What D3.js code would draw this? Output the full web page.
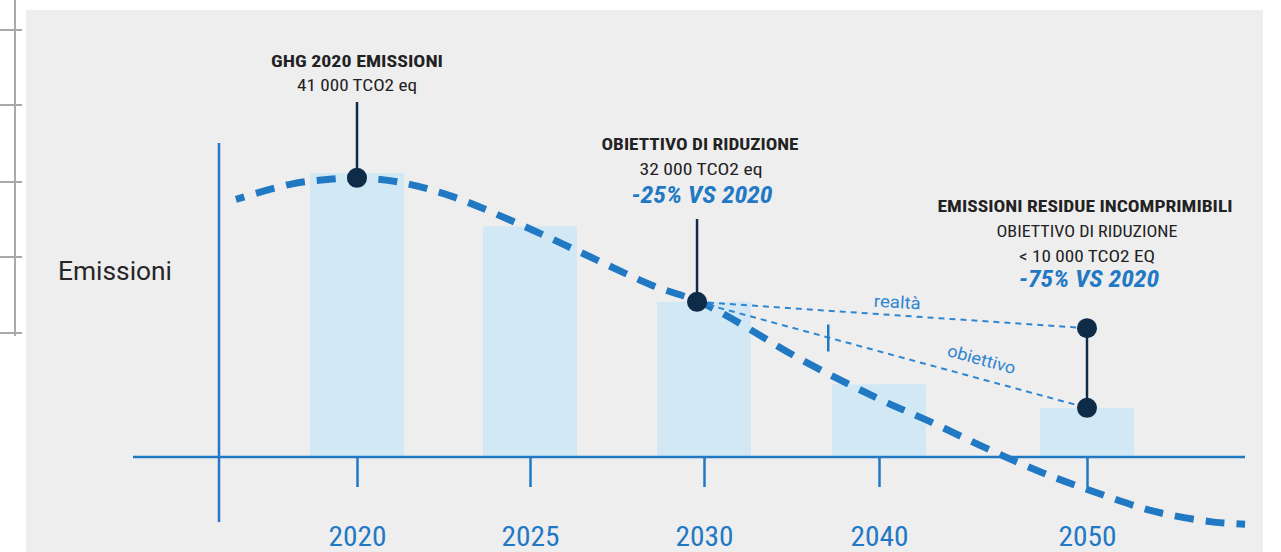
<!DOCTYPE html>
<html>
<head>
<meta charset="utf-8">
<script src="https://cdn.jsdelivr.net/npm/d3@7"></script>
<style>
  body { margin: 0; background: #fff; }
  svg { display: block; }
  text { font-family: 'Liberation Sans Narrow', 'Roboto Condensed', 'DejaVu Sans Condensed', sans-serif; }
</style>
</head>
<body>
<div id="chart"></div>
<script>

// bars (tCO2 eq)
const years = [2020, 2025, 2030, 2040, 2050]
const tickLabels = ['2020', '2025', '2030', '2040', '2050']
const barValues = [41000, 33300, 22400, 10500, 7100]

// dashed trajectory
const curveYears = [2016.5, 2018.1, 2019.2, 2020, 2021.2, 2022.7, 2024.7, 2026.6, 2028.5, 2030, 2035.6, 2039.9, 2042.6, 2045.2, 2047.8, 2050.5, 2053.3, 2056.1, 2057.6]
const curveValues = [37200, 39400, 40100, 40300, 39700, 37700, 33600, 29200, 24800, 22100, 14000, 8500, 4900, 1200, -2200, -5200, -7900, -9400, -9700]

// annotated points
const peakPoint = {year: 2020, value: 40300}
const targetPoint = {year: 2029.8, value: 22400}
const realtaEnd = {year: 2050, value: 18600}
const obiettivoEnd = {year: 2050, value: 7100}
const markYear = 2037.1

const width = 1281, height = 552
const blue = '#2179c4', navy = '#0e2c47', barFill = '#d3e8f5'

let svg = d3.select('#chart').append('svg')
    .attr('width', width)
    .attr('height', height)

svg.append('rect')
    .attr('x', 26).attr('y', 10)
    .attr('width', 1237).attr('height', height - 10)
    .attr('fill', '#efeeef')

// leftover grid on the left edge
svg.append('line')
    .attr('x1', 15).attr('x2', 15).attr('y1', 0).attr('y2', 336)
    .attr('stroke', '#a9a9a9').attr('stroke-width', 2)
svg.selectAll('.gridtick')
    .data([30, 105, 182, 257, 333])
    .enter().append('line')
    .attr('x1', 0).attr('x2', 22)
    .attr('y1', d => d).attr('y2', d => d)
    .attr('stroke', '#a9a9a9').attr('stroke-width', 2)

let xScale = d3.scaleLinear().domain(years).range([357, 530, 704, 879, 1087])
let yScale = d3.scaleLinear().domain([0, 41000]).range([457, 173])

let barWidth = 94

svg.selectAll('.bar')
    .data(years)
    .enter().append('rect')
    .attr('class', 'bar')
    .attr('x', d => xScale(d) - barWidth / 2)
    .attr('y', (d, i) => yScale(barValues[i]))
    .attr('width', barWidth)
    .attr('height', (d, i) => yScale(0) - yScale(barValues[i]))
    .attr('fill', barFill)

// axes
let xAxis = svg.append('g')
    .attr('transform', 'translate(0,' + yScale(0) + ')')
    .call(d3.axisBottom(xScale).tickValues(years).tickSize(30).tickPadding(39)
        .tickFormat((d, i) => tickLabels[i]))
xAxis.select('.domain').remove()
xAxis.selectAll('line').attr('stroke', blue).attr('stroke-width', 2.5)
xAxis.selectAll('text')
    .attr('fill', blue)
    .attr('font-size', 28)
    .attr('textLength', 58)
    .attr('lengthAdjust', 'spacingAndGlyphs')
    .style('font-family', "'Liberation Sans Narrow', 'Roboto Condensed', sans-serif")

svg.append('line')
    .attr('x1', 133).attr('x2', 1245)
    .attr('y1', yScale(0)).attr('y2', yScale(0))
    .attr('stroke', blue).attr('stroke-width', 2.5)

svg.append('line')
    .attr('x1', 219).attr('x2', 219)
    .attr('y1', 143).attr('y2', 522)
    .attr('stroke', blue).attr('stroke-width', 2.5)

svg.append('text')
    .attr('x', 58).attr('y', 280)
    .attr('font-size', 25)
    .attr('fill', '#262626')
    .attr('textLength', 114)
    .attr('lengthAdjust', 'spacingAndGlyphs')
    .style('font-family', "'Roboto', 'Liberation Sans', sans-serif")
    .text('Emissioni')

// trajectory
let curveData = curveYears.map((y, i) => ({year: y, value: curveValues[i]}))

svg.append('path')
    .datum(curveData)
    .attr('fill', 'none')
    .attr('stroke', blue)
    .attr('stroke-width', 7)
    .attr('stroke-dasharray', '19,12')
    .attr('stroke-dashoffset', 10)
    .attr('d', d3.line()
        .curve(d3.curveCatmullRom)
        .x(d => xScale(d.year))
        .y(d => yScale(d.value)))

// thin dashed scenario lines
function thinLine(a, b){
    svg.append('line')
        .attr('x1', xScale(a.year)).attr('y1', yScale(a.value))
        .attr('x2', xScale(b.year)).attr('y2', yScale(b.value))
        .attr('stroke', '#2f86d0')
        .attr('stroke-width', 2)
        .attr('stroke-dasharray', '6,5')
}
thinLine(targetPoint, realtaEnd)
thinLine(targetPoint, obiettivoEnd)

let slope = (yScale(obiettivoEnd.value) - yScale(targetPoint.value)) / (xScale(obiettivoEnd.year) - xScale(targetPoint.year))
let markY = yScale(targetPoint.value) + slope * (xScale(markYear) - xScale(targetPoint.year))
svg.append('line')
    .attr('x1', xScale(markYear)).attr('x2', xScale(markYear))
    .attr('y1', markY - 13).attr('y2', markY + 14)
    .attr('stroke', blue).attr('stroke-width', 2.5)

svg.append('text')
    .attr('x', 897).attr('y', 308)
    .attr('text-anchor', 'middle')
    .attr('font-size', 17)
    .attr('fill', '#2f86d0')
    .attr('textLength', 47)
    .attr('lengthAdjust', 'spacingAndGlyphs')
    .attr('transform', 'rotate(3 897 308)')
    .style('font-family', "'Roboto', 'Liberation Sans', sans-serif")
    .text('realtà')

let ang = Math.atan(slope) * 180 / Math.PI
svg.append('text')
    .attr('x', 980).attr('y', 365)
    .attr('text-anchor', 'middle')
    .attr('font-size', 17)
    .attr('fill', '#2f86d0')
    .attr('textLength', 70)
    .attr('lengthAdjust', 'spacingAndGlyphs')
    .attr('transform', 'rotate(' + ang + ' 980 365)')
    .style('font-family', "'Roboto', 'Liberation Sans', sans-serif")
    .text('obiettivo')

// stems and dots
function stem(p, top){
    svg.append('line')
        .attr('x1', xScale(p.year)).attr('x2', xScale(p.year))
        .attr('y1', top).attr('y2', yScale(p.value))
        .attr('stroke', navy).attr('stroke-width', 2.5)
}
stem(peakPoint, 102)
stem(targetPoint, 219)

svg.append('line')
    .attr('x1', xScale(realtaEnd.year)).attr('x2', xScale(realtaEnd.year))
    .attr('y1', yScale(realtaEnd.value)).attr('y2', yScale(obiettivoEnd.value))
    .attr('stroke', navy).attr('stroke-width', 2.5)

svg.selectAll('.dot')
    .data([peakPoint, targetPoint, realtaEnd, obiettivoEnd])
    .enter().append('circle')
    .attr('cx', d => xScale(d.year))
    .attr('cy', d => yScale(d.value))
    .attr('r', 10)
    .attr('fill', navy)

// annotation text blocks
function label(x, y, txt, size, weight, color, len, italic){
    svg.append('text')
        .attr('x', x).attr('y', y)
        .attr('text-anchor', 'middle')
        .attr('font-size', size)
        .attr('font-weight', weight)
        .attr('font-style', italic ? 'italic' : 'normal')
        .attr('fill', color)
        .attr('textLength', len)
        .attr('lengthAdjust', 'spacingAndGlyphs')
        .text(txt)
}

label(357, 67, 'GHG 2020 EMISSIONI', 17, 'bold', '#222', 172)
label(357, 91, '41 000 TCO2 eq', 17, 'normal', '#222', 120)

label(700, 150, 'OBIETTIVO DI RIDUZIONE', 17, 'bold', '#222', 197)
label(701, 175, '32 000 TCO2 eq', 17, 'normal', '#222', 123)
label(702, 203, '-25% VS 2020', 23, 'bold', blue, 141, true)

label(1085, 212, 'EMISSIONI RESIDUE INCOMPRIMIBILI', 17, 'bold', '#222', 295)
label(1087, 237, 'OBIETTIVO DI RIDUZIONE', 17, 'normal', '#222', 181)
label(1087, 262, '< 10 000 TCO2 EQ', 17, 'normal', '#222', 136)
label(1089, 287, '-75% VS 2020', 23, 'bold', blue, 140, true)

</script>
</body>
</html>
